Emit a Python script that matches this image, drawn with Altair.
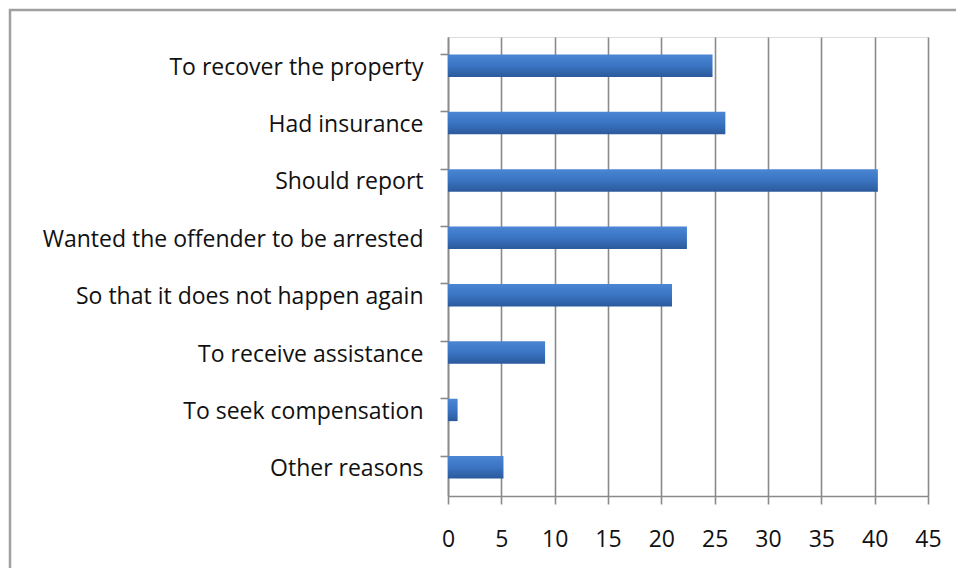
import altair as alt
import pandas as pd

categories = [
    "To recover the property",
    "Had insurance",
    "Should report",
    "Wanted the offender to be arrested",
    "So that it does not happen again",
    "To receive assistance",
    "To seek compensation",
    "Other reasons",
]
values = [24.8, 26.0, 40.3, 22.4, 21.0, 9.1, 0.9, 5.2]
x_ticks = [0, 5, 10, 15, 20, 25, 30, 35, 40, 45]

df = pd.DataFrame({"reason": categories, "pct": values})

W, H = 480, 459
grad = alt.Gradient(
    gradient="linear", x1=0, y1=0, x2=0, y2=1,
    stops=[alt.GradientStop(offset=0, color="#4a86d4"),
           alt.GradientStop(offset=0.5, color="#3a74c2"),
           alt.GradientStop(offset=1, color="#2b5a9c")],
)

FONT = "Open Sans"
FS = 23

bars = alt.Chart(df).mark_bar(fill=grad, cornerRadius=0).encode(
    x=alt.X("pct:Q", scale=alt.Scale(domain=[0, 45], nice=False),
            axis=alt.Axis(values=x_ticks, title=None, grid=True, gridColor="#8a8a8a",
                          gridWidth=1.6, domainColor="#8a8a8a", domainWidth=1.6,
                          tickColor="#8a8a8a", tickWidth=1.6, tickSize=8,
                          labelFont=FONT, labelFontSize=FS, labelColor="#111",
                          labelPadding=24, labelFlush=False)),
    y=alt.Y("reason:N", sort=categories,
            scale=alt.Scale(paddingInner=0.61, paddingOuter=0.305),
            axis=alt.Axis(title=None, bandPosition=0, domainColor="#8a8a8a", domainWidth=1.6,
                          tickColor="#8a8a8a", tickWidth=1.6, tickSize=8,
                          labelFont=FONT, labelFontSize=FS, labelColor="#111",
                          labelPadding=17, labelLimit=0, labelOffset=2)),
)

frame = alt.Chart(pd.DataFrame({"a": [0]})).mark_rect(
    fill=None, stroke="#a0a0a0", strokeWidth=2.5, clip=False
).encode(
    x=alt.value(-438), x2=alt.value(560),
    y=alt.value(-27), y2=alt.value(600),
)

chart = alt.layer(frame, bars).properties(
    width=W, height=H,
    padding={"left": 440, "top": 29, "right": 28, "bottom": 72},
    autosize=alt.AutoSizeParams(type="none"),
).configure_view(stroke=None).configure(background="white")

chart.save("out.html", embed_options={"renderer": "svg", "actions": False})
